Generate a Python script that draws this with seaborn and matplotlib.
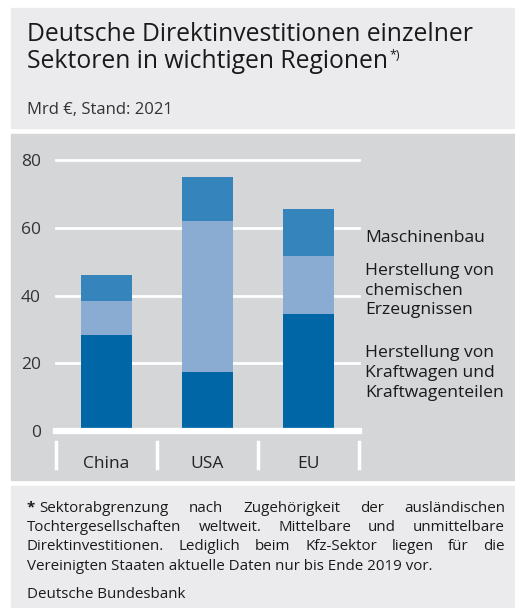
import pandas as pd
import seaborn as sns
import matplotlib.pyplot as plt
from matplotlib.patches import Rectangle

# data (Mrd EUR)
regions = ["China", "USA", "EU"]
kfz = [28.2, 17.4, 34.4]
chemie = [10.2, 44.7, 17.3]
maschinenbau = [7.6, 12.8, 13.7]
sector_labels = [["Maschinenbau"],
                 ["Herstellung von", "chemischen", "Erzeugnissen"],
                 ["Herstellung von", "Kraftwagen und", "Kraftwagenteilen"]]
yticks = [0, 20, 40, 60, 80]

col_kfz = "#0066a6"
col_chem = "#8aabd2"
col_masch = "#3684bc"

df = pd.DataFrame({"region": regions, "kfz": kfz, "chemie": chemie, "masch": maschinenbau})
df["top_chem"] = df["kfz"] + df["chemie"]
df["total"] = df["top_chem"] + df["masch"]

plt.rcParams["font.family"] = ["Open Sans", "DejaVu Sans"]

W, H = 515, 608
fig = plt.figure(figsize=(W / 100, H / 100), dpi=100)
fig.patch.set_facecolor("white")


def fy(y):
    return 1 - y / H


# background panels
for (y0, y1, c) in [(8, 128, "#ebebed"), (134, 480, "#d5d6d8"), (486, 608, "#ebebed")]:
    fig.patches.append(Rectangle((11 / W, fy(y1)), 1 - 11 / W, (y1 - y0) / H,
                                 transform=fig.transFigure, color=c, zorder=-5))

# plot area
ax = fig.add_axes([56 / W, fy(431), 303 / W, (431 - 160) / H])
ax.set_zorder(2)
ax.set_facecolor("none")
sns.barplot(data=df, x="region", y="total", color=col_masch, width=0.5,
            saturation=1, ax=ax, zorder=3)
sns.barplot(data=df, x="region", y="top_chem", color=col_chem, width=0.5,
            saturation=1, ax=ax, zorder=3)
sns.barplot(data=df, x="region", y="kfz", color=col_kfz, width=0.5,
            saturation=1, ax=ax, zorder=3)
ax.set_xlim(-0.5, 2.5)
ax.set_ylim(0, 80)
for s in ax.spines.values():
    s.set_visible(False)
ax.set_xlabel("")
ax.set_ylabel("")
ax.set_xticks([])
ax.set_yticks(yticks)
ax.tick_params(axis="y", length=0, pad=11, labelsize=12.5, labelcolor="#333333")
for v in yticks[1:]:
    ax.axhline(v, color="white", lw=2, zorder=1, clip_on=False)
ax.axhline(0, color="white", lw=4.5, zorder=4, clip_on=False)

# category separators and labels
for x in [56, 157, 258, 359]:
    fig.add_artist(plt.Line2D([x / W, x / W], [fy(442), fy(468)], color="white", lw=2.5))
for i, r in enumerate(regions):
    fig.text((106.5 + 101 * i) / W, fy(467.5), r, ha="center", va="baseline",
             fontsize=12.5, color="#222222")

# sector labels on the right
label_y = [[241.5], [275, 295, 314.5], [357, 377, 397]]
for lines, ys in zip(sector_labels, label_y):
    for txt, y in zip(lines, ys):
        fig.text(365 / W, fy(y), txt, ha="left", va="baseline", fontsize=12.6,
                 color="#1a1a1a")

# title
fig.text(27 / W, fy(41), "Deutsche Direktinvestitionen einzelner", ha="left",
         va="baseline", fontsize=17.8, color="#1a1a1a")
t2 = fig.text(27 / W, fy(68.5), "Sektoren in wichtigen Regionen", ha="left",
              va="baseline", fontsize=17.8, color="#1a1a1a")
fig.canvas.draw()
r = fig.canvas.get_renderer()
bb = t2.get_window_extent(r)
fig.text((bb.x1 + 1) / W, fy(59), "*)", ha="left", va="baseline", fontsize=9,
         color="#1a1a1a")
fig.text(27 / W, fy(113.5), "Mrd \u20ac, Stand: 2021", ha="left", va="baseline",
         fontsize=12, color="#333333")

# footnote, justified
foot_lines = [
    "Sektorabgrenzung nach Zugehörigkeit der ausländischen",
    "Tochtergesellschaften weltweit. Mittelbare und unmittelbare",
    "Direktinvestitionen. Lediglich beim Kfz-Sektor liegen für die",
]
last_line = "Vereinigten Staaten aktuelle Daten nur bis Ende 2019 vor."
fs = 10.9
x0, x1 = 27, 505
base = [511.5, 531, 550.5, 570]
star = fig.text(x0 / W, fy(base[0]), "*", ha="left", va="baseline", fontsize=fs,
                fontweight="bold", color="#1a1a1a")
sb = star.get_window_extent(r)
for li, line in enumerate(foot_lines):
    start = sb.x1 + 4 if li == 0 else x0
    words = line.split(" ")
    arts = [fig.text(0, fy(base[li]), w, ha="left", va="baseline", fontsize=fs,
                     color="#1a1a1a") for w in words]
    widths = [a.get_window_extent(r).width for a in arts]
    gap = (x1 - start - sum(widths)) / (len(words) - 1)
    xx = start
    for a, w in zip(arts, widths):
        a.set_x(xx / W)
        xx += w + gap
fig.text(x0 / W, fy(base[3]), last_line, ha="left", va="baseline", fontsize=fs,
         color="#1a1a1a")
fig.text(x0 / W, fy(598), "Deutsche Bundesbank", ha="left", va="baseline",
         fontsize=fs, color="#1a1a1a")

fig.savefig("out.png", dpi=100, facecolor="white")
